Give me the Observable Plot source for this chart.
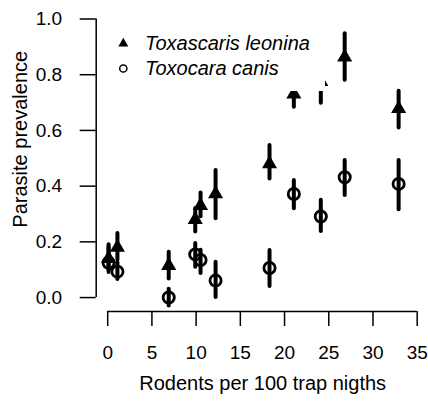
<!DOCTYPE html>
<html><head><meta charset="utf-8">
<script src="https://cdn.jsdelivr.net/npm/d3@7"></script>
<script src="https://cdn.jsdelivr.net/npm/@observablehq/plot@0.6"></script>
<style>
body{margin:0;background:#fff;font-family:"Liberation Sans",Arial,sans-serif;}
#wrap{position:relative;width:428px;height:404px;}
#legend{position:absolute;left:108px;top:20px;width:217px;height:71px;background:#fff;}
</style></head><body><div id="wrap"></div>
<script>
// Data
const sites       = [0.1, 1.1, 6.9, 9.9, 10.5, 12.2, 18.3, 21.05, 24.1, 26.8, 32.9];
const leonina     = [0.14, 0.18, 0.115, 0.28, 0.33, 0.372, 0.48, 0.73, 0.775, 0.863, 0.678];
const leoninaLow  = [0.10, 0.135, 0.067, 0.235, 0.29, 0.283, 0.426, 0.683, 0.698, 0.78, 0.609];
const leoninaHigh = [0.19, 0.23, 0.163, 0.32, 0.375, 0.456, 0.546, 0.78, 0.85, 0.947, 0.741];
const canis       = [0.125, 0.093, 0.0, 0.155, 0.135, 0.061, 0.106, 0.372, 0.291, 0.432, 0.408];
const canisLow    = [0.09, 0.065, -0.03, 0.109, 0.086, 0.0, 0.04, 0.319, 0.237, 0.366, 0.315];
const canisHigh   = [0.18, 0.125, 0.03, 0.194, 0.17, 0.127, 0.169, 0.42, 0.349, 0.492, 0.492];
const xTicks = [0, 5, 10, 15, 20, 25, 30, 35];
const yTicks = [0.0, 0.2, 0.4, 0.6, 0.8, 1.0];
const species = ["Toxascaris leonina", "Toxocara canis"];
const xLabel = "Rodents per 100 trap nigths";
const yLabel = "Parasite prevalence";

const xDomain = [-1.3, 35];
const yDomain = [-0.05, 1];

const leoRows = sites.map((x, i) => ({x, y: leonina[i], lo: leoninaLow[i], hi: leoninaHigh[i]}));
const canRows = sites.map((x, i) => ({x, y: canis[i], lo: canisLow[i], hi: canisHigh[i]}));

const font = "Liberation Sans, Arial, sans-serif";
const chart = Plot.plot({
  width: 428, height: 404,
  marginLeft: 95.7, marginRight: 11.3, marginTop: 18.5, marginBottom: 93,
  x: {domain: xDomain},
  y: {domain: yDomain},
  style: {fontFamily: font, fontSize: "19px", color: "#000", background: "#fff"},
  marks: [
    Plot.ruleY([yDomain[0]], {x1: xTicks[0], x2: xTicks[xTicks.length - 1], stroke: "#000", strokeWidth: 1.5}),
    Plot.ruleX([xDomain[0]], {y1: yTicks[0], y2: yTicks[yTicks.length - 1], stroke: "#000", strokeWidth: 1.5}),
    Plot.axisX({ticks: xTicks, tickSize: 15, tickPadding: 19, strokeWidth: 1.5, fontSize: 19, label: null}),
    Plot.axisY({ticks: yTicks, tickFormat: d => d.toFixed(1), tickSize: 16, tickPadding: 18, strokeWidth: 1.5, fontSize: 19, label: null}),
    Plot.ruleX(canRows, {x: "x", y1: "lo", y2: "hi", stroke: "#000", strokeWidth: 4, strokeLinecap: "round"}),
    Plot.ruleX(leoRows, {x: "x", y1: "lo", y2: "hi", stroke: "#000", strokeWidth: 4, strokeLinecap: "round"}),
    Plot.dot(canRows, {x: "x", y: "y", r: 5.6, stroke: "#000", strokeWidth: 2.8, fill: "none"}),
    Plot.dot(leoRows, {x: "x", y: "y", r: 5.6, symbol: "triangle", fill: "#000", stroke: "none"}),
    Plot.text([xLabel], {frameAnchor: "bottom", dy: 72, dx: 6, fontSize: 20, lineAnchor: "middle", fill: "#000"}),
    Plot.text([yLabel], {frameAnchor: "left", dx: -76, dy: -26, rotate: -90, fontSize: 20, textAnchor: "middle", lineAnchor: "middle", fill: "#000"})
  ]
});
const wrap = document.getElementById("wrap");
wrap.appendChild(chart);

// Legend (white box overlaying the top-left of the plot, as in the reference)
const leg = document.createElement("div");
leg.id = "legend";
const ns = "http://www.w3.org/2000/svg";
const lsvg = document.createElementNS(ns, "svg");
lsvg.setAttribute("width", 217); lsvg.setAttribute("height", 71);
const tri = document.createElementNS(ns, "path");
tri.setAttribute("d", d3.symbol(d3.symbolTriangle, 43)());
tri.setAttribute("transform", "translate(15.3,23.5)");
tri.setAttribute("fill", "#000");
lsvg.appendChild(tri);
const circ = document.createElementNS(ns, "circle");
circ.setAttribute("cx", 15.3); circ.setAttribute("cy", 48.5); circ.setAttribute("r", 3.6);
circ.setAttribute("fill", "none"); circ.setAttribute("stroke", "#000"); circ.setAttribute("stroke-width", 1.5);
lsvg.appendChild(circ);
species.forEach((s, i) => {
  const t = document.createElementNS(ns, "text");
  t.setAttribute("x", 37); t.setAttribute("y", 23 + i * 25);
  t.setAttribute("dy", "0.35em");
  t.setAttribute("font-size", 20);
  t.setAttribute("font-style", "italic");
  t.setAttribute("font-family", font);
  t.textContent = s;
  lsvg.appendChild(t);
});
leg.appendChild(lsvg);
wrap.appendChild(leg);
</script></body></html>
